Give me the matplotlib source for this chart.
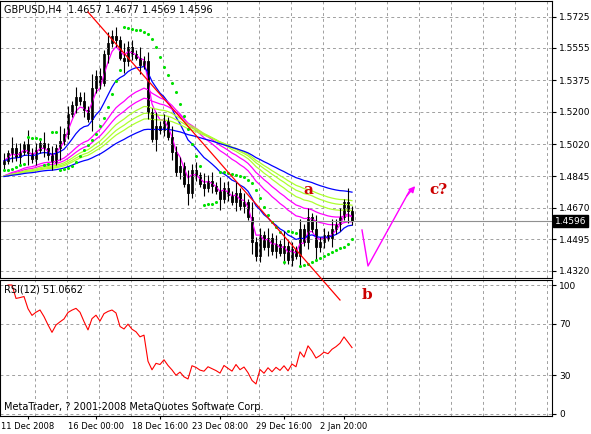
import numpy as np
import pandas as pd
import matplotlib
matplotlib.use("Agg")
import matplotlib.pyplot as plt
from matplotlib.lines import Line2D

closes = [1.493,1.497,1.500,1.495,1.498,1.502,1.497,1.494,1.499,1.503,1.500,
          1.496,1.492,1.500,1.504,1.508,1.519,1.524,1.528,1.526,1.521,1.516,1.533,
          1.540,1.536,1.552,1.558,1.562,1.560,1.550,1.548,
          1.556,1.552,1.550,1.546,1.548,
          1.520,1.505,1.512,1.510,1.515,
          1.506,1.498,1.487,1.490,1.480,1.475,1.488,1.485,1.480,1.478,
          1.482,1.479,1.476,1.472,1.478,1.474,1.470,1.475,1.468,1.470,
          1.462,1.448,1.440,1.452,1.445,1.450,1.443,1.447,1.442,1.446,
          1.438,1.444,1.440,1.455,1.448,1.462,1.455,1.445,1.448,1.452,
          1.450,1.455,1.458,1.462,1.470,1.465,1.4596]
wick_pattern = [0.004,0.002,0.006,0.003,0.005,0.002,0.008,0.003]
ma_seed = 1.484
price_ticks = [1.5725,1.5555,1.5375,1.5200,1.5020,1.4845,1.4670,1.4495,1.4320]
date_labels = ["11 Dec 2008","16 Dec 00:00","18 Dec 16:00","23 Dec 08:00","29 Dec 16:00","2 Jan 20:00"]
date_pos = [6,23,39,54,70,85]
rsi_ticks = [100,70,30,0]

n = len(closes)
c = np.array(closes)
o = np.concatenate([[1.491], c[:-1]])
w = np.array([wick_pattern[i % len(wick_pattern)] for i in range(n)])
hi = np.maximum(o, c) + w
lo = np.minimum(o, c) - w*0.8
x = np.arange(n)
s = pd.Series(c)

fig = plt.figure(figsize=(5.91,4.34), dpi=100)
W, H = 591, 434
ax = fig.add_axes([0/W, 1-278/H, 552/W, 277/H])
ar = fig.add_axes([0/W, 1-416/H, 552/W, 136/H])
for a in (ax, ar):
    a.set_xlim(-1, 137)
    a.yaxis.tick_right()
    a.tick_params(labelsize=6.5, length=3, pad=2)
    a.set_xticks(np.arange(7.75, 137, 8), minor=True)
    a.grid(True, which='minor', axis='x', color='#a0a0a0', ls=(0,(3,3)), lw=0.7)
    a.grid(True, which='major', axis='y', color='#a0a0a0', ls=(0,(3,3)), lw=0.7)
    a.tick_params(which='minor', length=0)
ax.set_ylim(1.4281, 1.5813)
ax.set_yticks(price_ticks)
ax.set_yticklabels([f"{p:.4f}" for p in price_ticks])
ax.set_xticks([])

ax.plot(x, s.ewm(span=4, adjust=False).mean(), color='magenta', lw=0.9)
ax.plot(x, s.ewm(span=14, adjust=False).mean(), color='blue', lw=0.9)
for sp, col in [(28,'magenta'),(36,'magenta'),(44,'#adff2f'),(52,'#adff2f'),(60,'#adff2f'),(80,'blue')]:
    e = pd.Series(np.concatenate([[ma_seed]*6, c])).ewm(span=sp, adjust=False).mean().values[6:]
    ax.plot(x, e, color=col, lw=0.9)

for i in range(n):
    ax.vlines(x[i], lo[i], hi[i], color='black', lw=0.8)
    bull = c[i] >= o[i]
    bot = min(o[i], c[i]); h = max(abs(c[i]-o[i]), 0.0006)
    ax.add_patch(plt.Rectangle((x[i]-0.3, bot), 0.6, h, facecolor='white' if bull else 'black',
                               edgecolor='black', lw=0.6))

def psar(h, l, step=0.02, mx=0.2):
    sar = np.zeros(len(h)); up = True; af = step; ep = h[0]; sar[0] = l[0]
    for i in range(1, len(h)):
        sar[i] = sar[i-1] + af*(ep - sar[i-1])
        if up:
            if l[i] < sar[i]:
                up = False; sar[i] = ep; ep = l[i]; af = step
            elif h[i] > ep:
                ep = h[i]; af = min(af+step, mx)
        else:
            if h[i] > sar[i]:
                up = True; sar[i] = ep; ep = h[i]; af = step
            elif l[i] < ep:
                ep = l[i]; af = min(af+step, mx)
    return sar
ax.scatter(x, psar(hi, lo), s=5, color='#00e000', marker='o', linewidths=0, zorder=5)

ax.axhline(1.4596, color='#909090', lw=0.8)
ax.text(1.005, 1.4596, "1.4596", transform=ax.get_yaxis_transform(), fontsize=6.5, color='white',
        va='center', ha='left', bbox=dict(facecolor='black', edgecolor='black', pad=1.2))
ax.text(0.008, 0.985, "GBPUSD,H4  1.4657 1.4677 1.4569 1.4596", transform=ax.transAxes,
        fontsize=7, va='top')

d = s.diff()
g = d.clip(lower=0).ewm(alpha=1/12, adjust=False).mean()
l_ = (-d.clip(upper=0)).ewm(alpha=1/12, adjust=False).mean()
rsi = 100 - 100/(1 + g/l_)
ar.plot(x[1:], rsi[1:], color='red', lw=0.8)
ar.set_ylim(-1.6, 103.9)
ar.set_yticks(rsi_ticks)
ar.set_xticks(date_pos)
ar.set_xticklabels(date_labels)
ar.tick_params(axis='x', labelsize=6, length=2)
ar.text(0.008, 0.97, "RSI(12) 51.0662", transform=ar.transAxes, fontsize=7, va='top')
ar.text(0.008, 0.03, "MetaTrader, ? 2001-2008 MetaQuotes Software Corp.", transform=ar.transAxes,
        fontsize=7, va='bottom')

def fp(px, py): return (px/W, 1-py/H)
fig.add_artist(Line2D(*zip(fp(88,12), fp(340,300)), color='red', lw=0.9))
pts = [fp(362,230), fp(368,266), fp(410,190)]
fig.add_artist(Line2D([p[0] for p in pts], [p[1] for p in pts], color='magenta', lw=1))
fig.add_artist(matplotlib.patches.FancyArrowPatch(fp(405,198), fp(417,184), transform=fig.transFigure,
               arrowstyle='-|>', mutation_scale=9, color='magenta', lw=1))
for t, px, py in [("a",308,190),("b",367,295),("c?",438,190)]:
    fig.text(*fp(px,py), t, color='#cc0000', fontsize=11, fontweight='bold', family='DejaVu Serif',
             ha='center', va='center')

fig.savefig("out.png", dpi=100, facecolor='white')
